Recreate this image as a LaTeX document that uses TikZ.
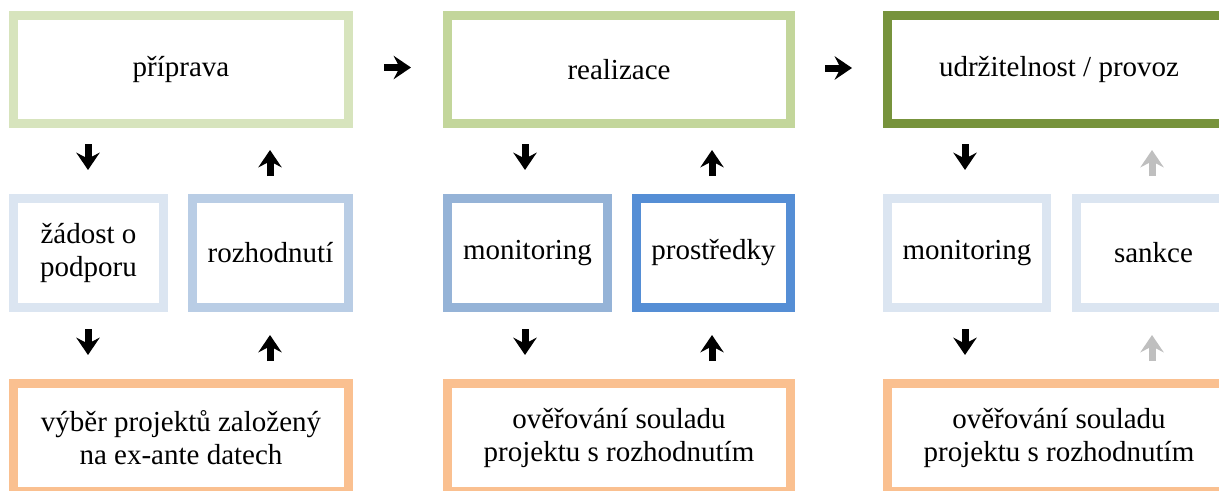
\documentclass[tikz,border=0pt]{standalone}
\usepackage{fontspec}
\setmainfont{Liberation Serif}
\usetikzlibrary{arrows.meta}
\definecolor{gA}{HTML}{D7E4BD}
\definecolor{gB}{HTML}{C3D69B}
\definecolor{gC}{HTML}{77933C}
\definecolor{bA}{HTML}{DBE5F1}
\definecolor{bB}{HTML}{B9CDE5}
\definecolor{bC}{HTML}{95B3D7}
\definecolor{bD}{HTML}{558ED5}
\definecolor{oA}{HTML}{FAC090}
\definecolor{grA}{HTML}{BFBFBF}
\begin{document}
\begin{tikzpicture}[x=0.75pt,y=-0.75pt,
  box/.style={draw, line width=6.75pt, fill=white, inner sep=0pt, outer sep=0pt,
    align=center, font=\fontsize{21.75pt}{24.75pt}\selectfont},
  topbox/.style={box, minimum height=81pt},
  midbox/.style={box, minimum height=81.75pt},
  botbox/.style={box, minimum height=81pt},
  bigarr/.style={line width=5.25pt, -{Stealth[width=17.5pt,length=13pt,inset=4.5pt]}},
  faint/.style={draw=grA}
]
\useasboundingbox (0,0) rectangle (1219,490);
\clip (0,0) rectangle (1219,490);

% top row
\node[topbox, draw=gA, minimum width=251.25pt] (p1) at (181,69.5) {příprava};
\node[topbox, draw=gB, minimum width=257.25pt] (p2) at (619,69.5) {realizace};
\node[topbox, draw=gC, minimum width=257.25pt] (p3) at (1059,69.5) {udržitelnost / provoz};

% middle row
\node[midbox, draw=bA, minimum width=112.5pt] (m1) at (88.5,253) {žádost o\\podporu};
\node[midbox, draw=bB, minimum width=117pt] (m2) at (270.5,253) {rozhodnutí};
\node[midbox, draw=bC, minimum width=120pt] (m3) at (527.5,253) {monitoring};
\node[midbox, draw=bD, minimum width=115.5pt] (m4) at (713.5,253) {prostředky};
\node[midbox, draw=bA, minimum width=119.25pt] (m5) at (967,253) {monitoring};
\node[midbox, draw=bA, minimum width=115.5pt] (m6) at (1153.5,253) {sankce};

% bottom row
\node[botbox, draw=oA, minimum width=251.25pt] (b1) at (181,437.5) {výběr projektů založený\\na ex-ante datech};
\node[botbox, draw=oA, minimum width=257.25pt] (b2) at (619,437.5) {ověřování souladu\\projektu s rozhodnutím};
\node[botbox, draw=oA, minimum width=257.25pt] (b3) at (1059,437.5) {ověřování souladu\\projektu s rozhodnutím};

% arrow end points
\coordinate (r1s) at (384,67.5);  \coordinate (r1e) at (411,67.5);
\coordinate (r2s) at (825,68);    \coordinate (r2e) at (852,68);

\coordinate (d1s) at (88,144);  \coordinate (d1e) at (88,170);
\coordinate (u1s) at (270,176); \coordinate (u1e) at (270,150);
\coordinate (d2s) at (88,329);  \coordinate (d2e) at (88,355);
\coordinate (u2s) at (270,361); \coordinate (u2e) at (270,335);

\coordinate (d3s) at (525,144); \coordinate (d3e) at (525,170);
\coordinate (u3s) at (712,176); \coordinate (u3e) at (712,150);
\coordinate (d4s) at (525,329); \coordinate (d4e) at (525,355);
\coordinate (u4s) at (712,361); \coordinate (u4e) at (712,335);

\coordinate (d5s) at (965,144);  \coordinate (d5e) at (965,170);
\coordinate (u5s) at (1152,176); \coordinate (u5e) at (1152,150);
\coordinate (d6s) at (965,329);  \coordinate (d6e) at (965,355);
\coordinate (u6s) at (1152,361); \coordinate (u6e) at (1152,335);

\draw[bigarr] (r1s) -- (r1e);
\draw[bigarr] (r2s) -- (r2e);

\draw[bigarr] (d1s) -- (d1e);
\draw[bigarr] (u1s) -- (u1e);
\draw[bigarr] (d2s) -- (d2e);
\draw[bigarr] (u2s) -- (u2e);
\draw[bigarr] (d3s) -- (d3e);
\draw[bigarr] (u3s) -- (u3e);
\draw[bigarr] (d4s) -- (d4e);
\draw[bigarr] (u4s) -- (u4e);
\draw[bigarr] (d5s) -- (d5e);
\draw[bigarr, faint] (u5s) -- (u5e);
\draw[bigarr] (d6s) -- (d6e);
\draw[bigarr, faint] (u6s) -- (u6e);
\end{tikzpicture}
\end{document}
